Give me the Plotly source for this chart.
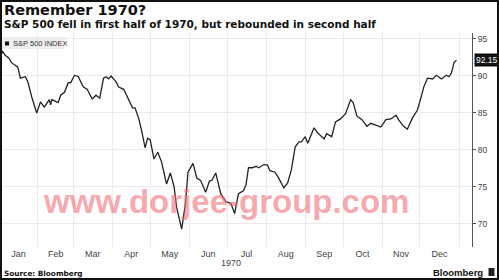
import plotly.graph_objects as go

# ---- data ----
dates = [
    "1970-01-02", "1970-01-04", "1970-01-06", "1970-01-09", "1970-01-11", "1970-01-13",
    "1970-01-16", "1970-01-18", "1970-01-22", "1970-01-24", "1970-01-27", "1970-01-31",
    "1970-02-03", "1970-02-06", "1970-02-10", "1970-02-11", "1970-02-12", "1970-02-17",
    "1970-02-19", "1970-02-22", "1970-02-25", "1970-02-27",
    "1970-03-02", "1970-03-05", "1970-03-09", "1970-03-12", "1970-03-16", "1970-03-19",
    "1970-03-22", "1970-03-25", "1970-03-27", "1970-03-29", "1970-03-31",
    "1970-04-04", "1970-04-06", "1970-04-10", "1970-04-14", "1970-04-17", "1970-04-19",
    "1970-04-22", "1970-04-24", "1970-04-27", "1970-04-29",
    "1970-05-01", "1970-05-04", "1970-05-07", "1970-05-10", "1970-05-14", "1970-05-17",
    "1970-05-20", "1970-05-22", "1970-05-26", "1970-05-29", "1970-05-31",
    "1970-06-04", "1970-06-07", "1970-06-10", "1970-06-14", "1970-06-17", "1970-06-19",
    "1970-06-22", "1970-06-23", "1970-06-26", "1970-06-30",
    "1970-07-04", "1970-07-07", "1970-07-10", "1970-07-14", "1970-07-16", "1970-07-18",
    "1970-07-21", "1970-07-24", "1970-07-26", "1970-07-30",
    "1970-08-02", "1970-08-04", "1970-08-08", "1970-08-11", "1970-08-15", "1970-08-18",
    "1970-08-21", "1970-08-24", "1970-08-27", "1970-08-29",
    "1970-09-01", "1970-09-03", "1970-09-05", "1970-09-08", "1970-09-11", "1970-09-16",
    "1970-09-18", "1970-09-22", "1970-09-25", "1970-09-29",
    "1970-10-03", "1970-10-07", "1970-10-09", "1970-10-12", "1970-10-16", "1970-10-20",
    "1970-10-23", "1970-10-27", "1970-10-31",
    "1970-11-04", "1970-11-08", "1970-11-12", "1970-11-14", "1970-11-18", "1970-11-21",
    "1970-11-25", "1970-11-29",
    "1970-12-02", "1970-12-04", "1970-12-07", "1970-12-11", "1970-12-14", "1970-12-18",
    "1970-12-22", "1970-12-24", "1970-12-26", "1970-12-28", "1970-12-30",
]
spx = [
    92.7, 93.3, 92.8, 92.4, 91.8, 91.6,
    91.2, 89.7, 89.9, 89.2, 87.2, 85.0,
    86.5, 85.8, 86.8, 86.1, 86.8, 86.4,
    87.4, 87.8, 89.1, 89.1,
    90.1, 89.9, 88.5, 88.2, 86.9, 87.4,
    87.0, 89.7, 89.9, 89.6, 90.0,
    89.2, 88.5, 88.2, 86.8, 85.7, 85.7,
    84.2, 82.8, 80.3, 81.6,
    81.4, 78.8, 79.7, 78.4, 75.4, 76.9,
    75.0, 72.2, 69.3, 72.8, 77.0,
    78.2, 76.2, 75.9, 74.3, 75.8, 75.9,
    76.9, 76.2, 74.1, 73.0,
    72.8, 71.4, 74.1, 74.5, 75.3, 77.6,
    77.6, 77.8, 77.6, 78.0,
    78.0, 77.2, 77.0, 76.2, 74.9, 75.5,
    77.3, 80.4, 81.1, 81.1,
    81.8, 80.9, 81.8, 83.0, 82.3, 81.5,
    82.2, 81.8, 83.8, 84.2,
    84.9, 86.8, 86.4, 84.6, 84.1, 83.2,
    83.6, 83.4, 83.1,
    84.1, 84.2, 84.7, 84.1, 83.2, 82.8,
    84.3, 85.4,
    87.2, 88.5, 89.7, 89.6, 90.1, 89.6,
    90.1, 89.9, 90.4, 91.8, 92.15,
]
y_ticks = [70, 75, 80, 85, 90, 95]
last_value_label = "92.15"

W, H = 499, 280
ML, MR, MT, MB = 0, 27, 33, 33
PW, PH = W - ML - MR, H - MT - MB


def px(x):
    return (x - ML) / PW


def py(y):
    return 1 - (y - MT) / PH


fig = go.Figure()
fig.add_trace(go.Scatter(
    x=dates, y=spx, mode="lines",
    line=dict(color="#222222", width=1.3),
    showlegend=False, hoverinfo="skip",
))

title_font = "DejaVu Sans"
ann = []
ann.append(dict(text="<b>Remember 1970?</b>", x=px(2), y=py(10), xref="paper", yref="paper",
                xanchor="left", yanchor="middle", showarrow=False,
                font=dict(family=title_font, size=14.5, color="#111111")))
ann.append(dict(text="<b>S&P 500 fell in first half of 1970, but rebounded in second half</b>",
                x=px(2), y=py(24), xref="paper", yref="paper",
                xanchor="left", yanchor="middle", showarrow=False,
                font=dict(family=title_font, size=10.5, color="#111111")))
ann.append(dict(text="S&P 500 INDEX", x=px(10.5), y=py(43.5), xref="paper", yref="paper",
                xanchor="left", yanchor="middle", showarrow=False,
                font=dict(family="Liberation Sans", size=7.5, color="#333333")))
ann.append(dict(text="<b>www.dorjee-group.com</b>", x=px(226), y=py(201), xref="paper", yref="paper",
                xanchor="center", yanchor="middle", showarrow=False,
                font=dict(family="Liberation Sans", size=33, color="rgba(240,112,122,0.6)")))
ann.append(dict(text=last_value_label, x=1, y=spx[-1], xref="paper", yref="y",
                xanchor="left", yanchor="middle", xshift=2, showarrow=False,
                bgcolor="#111111", borderpad=1,
                font=dict(family="Liberation Sans", size=8.5, color="#ffffff")))
ann.append(dict(text="1970", x=px(231), y=py(263), xref="paper", yref="paper",
                xanchor="center", yanchor="middle", showarrow=False,
                font=dict(family="Liberation Sans", size=9, color="#444444")))
ann.append(dict(text="<b>Source: Bloomberg</b>", x=px(2), y=py(273), xref="paper", yref="paper",
                xanchor="left", yanchor="middle", showarrow=False,
                font=dict(family=title_font, size=7.3, color="#111111")))
ann.append(dict(text="<b>Bloomberg</b>", x=px(485), y=py(272), xref="paper", yref="paper",
                xanchor="right", yanchor="middle", showarrow=False,
                font=dict(family="Liberation Sans", size=9.5, color="#111111")))

shapes = []
# legend box
shapes.append(dict(type="rect", xref="paper", yref="paper", x0=px(2), x1=px(65), y0=py(49), y1=py(37),
                   fillcolor="#eeeeee", line=dict(width=0), layer="below"))
shapes.append(dict(type="rect", xref="paper", yref="paper", x0=px(5), x1=px(9), y0=py(45.5), y1=py(41.5),
                   fillcolor="#111111", line=dict(width=0)))
# logo icon
shapes.append(dict(type="rect", xref="paper", yref="paper", x0=px(488.5), x1=px(494.5), y0=py(276), y1=py(268),
                   fillcolor="#222222", line=dict(width=0)))
# outer frame
shapes.append(dict(type="rect", xref="paper", yref="paper", x0=px(1), x1=px(498), y0=py(279), y1=py(1),
                   fillcolor="rgba(0,0,0,0)", line=dict(color="#111111", width=2)))

fig.update_layout(
    width=W, height=H,
    margin=dict(l=ML, r=MR, t=MT, b=MB, pad=0),
    paper_bgcolor="white", plot_bgcolor="white",
    annotations=ann, shapes=shapes,
    showlegend=False,
    xaxis=dict(
        range=["1970-01-01 21:00", "1971-01-11 07:00"],
        tickmode="linear", tick0="1970-01-01", dtick="M1",
        ticklabelmode="period", tickformat="%b",
        showgrid=True, gridcolor="#ebebeb", gridwidth=1,
        showline=False, zeroline=False, ticks="",
        tickfont=dict(family="Liberation Sans", size=9, color="#444444"),
    ),
    yaxis=dict(
        range=[66.89, 95.81], side="right",
        tickmode="array", tickvals=y_ticks, ticktext=[str(v) for v in y_ticks],
        showgrid=True, gridcolor="#ebebeb", gridwidth=1,
        showline=True, linecolor="#555555", linewidth=1,
        ticks="outside", ticklen=3, tickcolor="#555555",
        zeroline=False,
        tickfont=dict(family="Liberation Sans", size=8.5, color="#444444"),
    ),
)

fig.write_html("out.html")
